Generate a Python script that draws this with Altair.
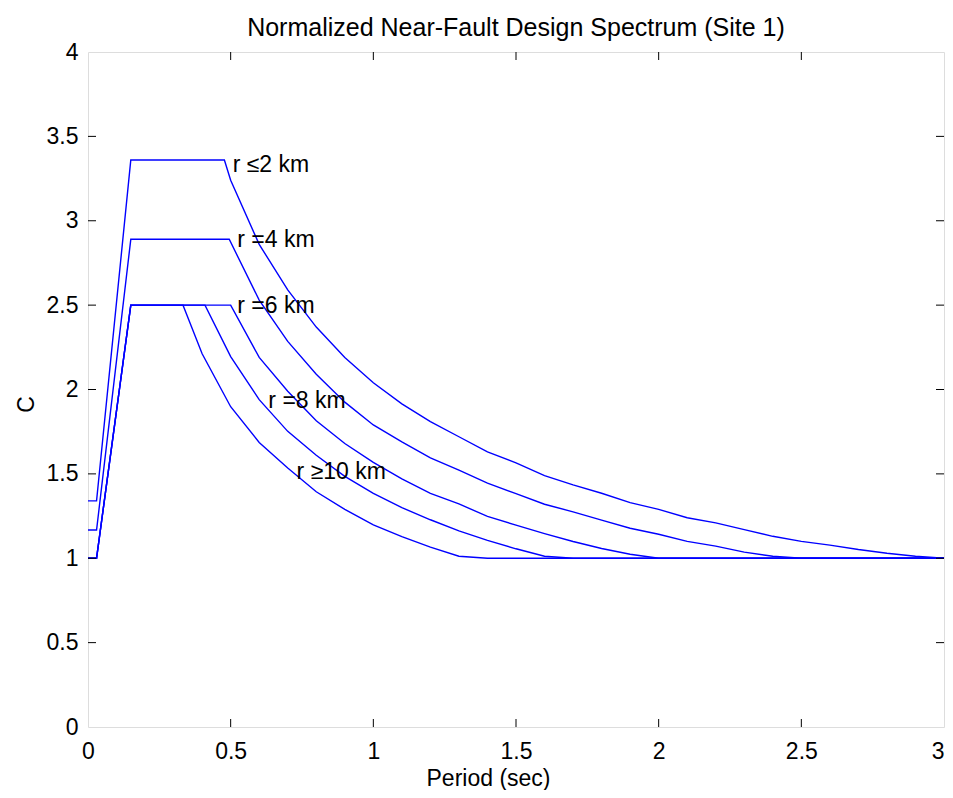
import altair as alt
import pandas as pd

# ---- data ----
t_r2 = [0, 0.03, 0.15, 0.478, 0.5, 0.6, 0.7, 0.8, 0.9, 1.0, 1.1, 1.2, 1.3, 1.4, 1.5,
        1.6, 1.7, 1.8, 1.9, 2.0, 2.1, 2.2, 2.3, 2.4, 2.5, 2.6, 2.7, 2.8, 2.9, 3.0]
c_r2 = [1.34, 1.34, 3.36, 3.36, 3.24, 2.86, 2.59, 2.37, 2.19, 2.04, 1.915, 1.81, 1.72, 1.63, 1.565,
        1.49, 1.435, 1.385, 1.33, 1.29, 1.24, 1.21, 1.17, 1.13, 1.10, 1.078, 1.052, 1.03, 1.012, 1.0]

t_r4 = [0, 0.03, 0.15, 0.495, 0.6, 0.7, 0.8, 0.9, 1.0, 1.1, 1.2, 1.3, 1.4, 1.5,
        1.6, 1.7, 1.8, 1.9, 2.0, 2.1, 2.2, 2.3, 2.4, 2.5, 3.0]
c_r4 = [1.167, 1.167, 2.89, 2.89, 2.53, 2.285, 2.09, 1.925, 1.79, 1.69, 1.595, 1.522, 1.445, 1.383,
        1.32, 1.275, 1.226, 1.178, 1.142, 1.10, 1.072, 1.036, 1.012, 1.0, 1.0]

t_r6 = [0, 0.03, 0.15, 0.5, 0.6, 0.7, 0.8, 0.9, 1.0, 1.1, 1.2, 1.3, 1.4, 1.5,
        1.6, 1.7, 1.8, 1.9, 2.0, 3.0]
c_r6 = [1.0, 1.0, 2.5, 2.5, 2.19, 1.99, 1.815, 1.68, 1.568, 1.47, 1.385, 1.322, 1.248, 1.196,
        1.146, 1.099, 1.058, 1.024, 1.0, 1.0]

t_r8 = [0, 0.03, 0.15, 0.41, 0.5, 0.6, 0.7, 0.8, 0.9, 1.0, 1.1, 1.2, 1.3, 1.4, 1.5, 1.6, 1.7, 3.0]
c_r8 = [1.0, 1.0, 2.5, 2.5, 2.195, 1.94, 1.752, 1.61, 1.485, 1.384, 1.30, 1.228, 1.162, 1.106,
        1.056, 1.012, 1.0, 1.0]

t_r10 = [0, 0.03, 0.15, 0.333, 0.4, 0.5, 0.6, 0.7, 0.8, 0.9, 1.0, 1.1, 1.2, 1.3, 1.4, 3.0]
c_r10 = [1.0, 1.0, 2.5, 2.5, 2.212, 1.898, 1.686, 1.535, 1.394, 1.29, 1.198, 1.128, 1.066, 1.012,
         1.0, 1.0]

label_text = ["r \u22642 km", "r =4 km", "r =6 km", "r =8 km", "r \u226510 km"]
label_t = [0.507, 0.523, 0.523, 0.632, 0.731]
label_c = [3.33, 2.886, 2.495, 1.934, 1.513]

x_ticks = [0, 0.5, 1, 1.5, 2, 2.5, 3]
y_ticks = [0, 0.5, 1, 1.5, 2, 2.5, 3, 3.5, 4]

# ---- build tables ----
rows = []
for name, ts, cs in [("r2", t_r2, c_r2), ("r4", t_r4, c_r4), ("r6", t_r6, c_r6),
                     ("r8", t_r8, c_r8), ("r10", t_r10, c_r10)]:
    for i, (t, c) in enumerate(zip(ts, cs)):
        rows.append({"series": name, "T": t, "C": c, "i": i})
df = pd.DataFrame(rows)
lab = pd.DataFrame({"T": label_t, "C": label_c, "text": label_text})
xt = pd.DataFrame({"t": x_ticks[1:-1]})
yt = pd.DataFrame({"t": y_ticks[1:-1]})

W, H = 856, 675
FONT = "Liberation Sans"
FS = 23
TL = 8

xs = alt.Scale(domain=[0, 3], nice=False, zero=False)
ys = alt.Scale(domain=[0, 4], nice=False, zero=False)

lines = alt.Chart(df).mark_line(color="#0000ff", strokeWidth=1.4).encode(
    x=alt.X("T:Q", scale=xs,
            axis=alt.Axis(title="Period (sec)", values=x_ticks, format="~g", grid=False,
                          ticks=False, domain=False, labelFontSize=FS, labelFont=FONT,
                          labelColor="black", labelPadding=13, titleFontSize=FS,
                          titleFont=FONT, titleFontWeight="normal", titleColor="black",
                          titlePadding=4, titleX=400, labelFlush=False,
                          labelAlign={"condition": {"test": "datum.value == 3", "value": "right"},
                                      "value": "center"})),
    y=alt.Y("C:Q", scale=ys,
            axis=alt.Axis(title="C", values=y_ticks, format="~g", grid=False,
                          ticks=False, domain=False, labelFontSize=FS, labelFont=FONT,
                          labelColor="black", labelPadding=10, titleFontSize=FS,
                          titleFont=FONT, titleFontWeight="normal", titleColor="black",
                          titlePadding=8, titleY=352, labelFlush=False)),
    detail="series:N",
    order="i:Q",
)

texts = alt.Chart(lab).mark_text(align="left", baseline="middle", fontSize=FS, font=FONT,
                                 color="black").encode(
    x=alt.X("T:Q", scale=xs), y=alt.Y("C:Q", scale=ys), text="text:N")

bt = alt.Chart(xt).mark_rule(color="black", strokeWidth=1).encode(
    x=alt.X("t:Q", scale=xs), y=alt.value(H), y2=alt.value(H - TL))
tt = alt.Chart(xt).mark_rule(color="black", strokeWidth=1).encode(
    x=alt.X("t:Q", scale=xs), y=alt.value(0), y2=alt.value(TL))
lt = alt.Chart(yt).mark_rule(color="black", strokeWidth=1).encode(
    y=alt.Y("t:Q", scale=ys), x=alt.value(0), x2=alt.value(TL))
rt = alt.Chart(yt).mark_rule(color="black", strokeWidth=1).encode(
    y=alt.Y("t:Q", scale=ys), x=alt.value(W), x2=alt.value(W - TL))

chart = alt.layer(lines, texts, bt, tt, lt, rt).properties(
    width=W, height=H,
    title=alt.TitleParams("Normalized Near-Fault Design Spectrum (Site 1)", fontSize=25,
                          font=FONT, fontWeight="normal", color="black", offset=10, dy=10),
    autosize=alt.AutoSizeParams(type="none"),
    padding={"left": 80, "top": 44, "right": 1, "bottom": 63},
).configure_view(stroke="black", strokeWidth=1.6).configure(background="white")

chart.save("out.html", embed_options={"renderer": "svg", "actions": False})
